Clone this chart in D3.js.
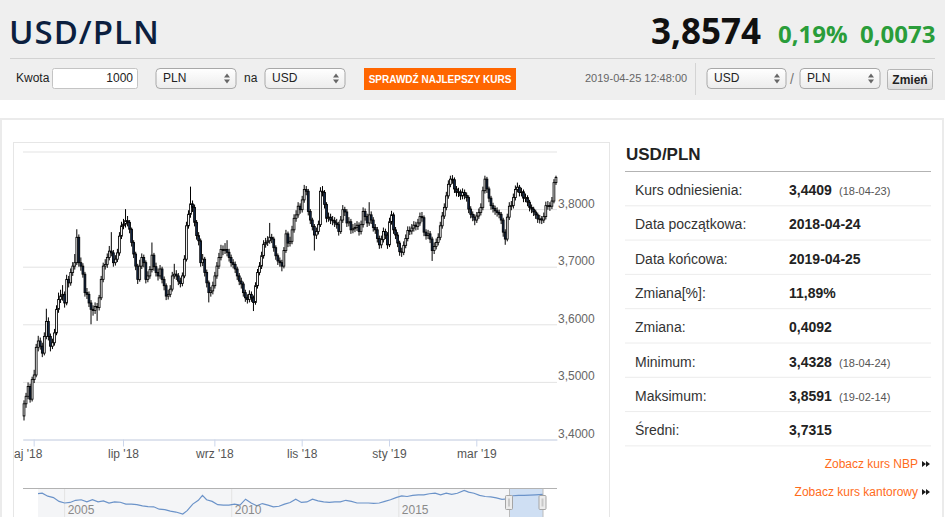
<!DOCTYPE html>
<html lang="pl">
<head>
<meta charset="utf-8">
<title>USD/PLN</title>
<script src="https://cdn.jsdelivr.net/npm/d3@7"></script>
<style>
  body { margin: 0; width: 945px; height: 517px; overflow: hidden; background: #fff; }
  svg { display: block; font-family: Arial, "Liberation Sans", sans-serif; }
</style>
</head>
<body>
<script>
// ---- data ----
const refRate = 3.4409;            // Kurs odniesienia (18-04-23), open of the first candle
const startDay = '2018-04-24';
const endDay = '2019-04-25';

// daily closes, one per weekday from startDay to endDay (open = previous close)
const closes = [
  3.462,3.475,3.492,3.470,3.504,3.512,3.560,3.571,3.562,3.550,
  3.579,3.605,3.579,3.562,3.568,3.585,3.626,3.643,3.649,3.652,
  3.637,3.678,3.672,3.690,3.701,3.707,3.751,3.707,3.701,3.687,
  3.655,3.652,3.637,3.626,3.624,3.631,3.629,3.646,3.678,3.701,
  3.704,3.716,3.727,3.724,3.707,3.713,3.724,3.753,3.771,3.774,
  3.780,3.777,3.765,3.742,3.722,3.701,3.678,3.701,3.716,3.707,
  3.678,3.684,3.695,3.720,3.700,3.690,3.684,3.696,3.678,3.667,
  3.649,3.652,3.661,3.684,3.687,3.684,3.675,3.671,3.684,3.713,
  3.771,3.791,3.809,3.803,3.777,3.754,3.745,3.707,3.713,3.690,
  3.672,3.655,3.658,3.667,3.684,3.701,3.716,3.730,3.728,3.730,
  3.725,3.716,3.707,3.704,3.696,3.684,3.675,3.670,3.655,3.646,
  3.643,3.652,3.646,3.638,3.667,3.690,3.701,3.719,3.739,3.742,
  3.745,3.751,3.748,3.733,3.719,3.710,3.707,3.701,3.728,3.757,
  3.741,3.744,3.764,3.784,3.790,3.805,3.799,3.816,3.834,3.831,
  3.796,3.781,3.770,3.755,3.761,3.773,3.831,3.829,3.808,3.784,
  3.786,3.781,3.780,3.776,3.773,3.761,3.781,3.799,3.795,3.776,
  3.778,3.764,3.766,3.768,3.772,3.761,3.773,3.796,3.787,3.776,
  3.790,3.781,3.768,3.764,3.749,3.738,3.747,3.761,3.755,3.738,
  3.778,3.790,3.764,3.755,3.741,3.726,3.725,3.737,3.749,3.763,
  3.762,3.767,3.772,3.770,3.776,3.787,3.785,3.760,3.754,3.757,
  3.748,3.728,3.735,3.742,3.751,3.771,3.788,3.803,3.823,3.843,
  3.852,3.851,3.835,3.829,3.830,3.823,3.829,3.824,3.820,3.800,
  3.791,3.786,3.781,3.788,3.794,3.803,3.832,3.852,3.835,3.819,
  3.806,3.801,3.797,3.794,3.791,3.781,3.760,3.748,3.786,3.805,
  3.806,3.820,3.834,3.838,3.829,3.830,3.819,3.820,3.812,3.803,
  3.800,3.795,3.790,3.783,3.783,3.781,3.787,3.806,3.806,3.805,
  3.814,3.846,3.855
];
const highs = [
  3.468,3.481,3.499,3.497,3.509,3.521,3.566,3.580,3.577,3.568,
  3.586,3.627,3.612,3.584,3.575,3.592,3.633,3.655,3.660,3.668,
  3.657,3.686,3.684,3.697,3.708,3.722,3.765,3.756,3.716,3.706,
  3.691,3.663,3.657,3.642,3.633,3.638,3.637,3.651,3.684,3.707,
  3.713,3.723,3.736,3.760,3.729,3.720,3.731,3.760,3.778,3.783,
  3.800,3.788,3.781,3.768,3.746,3.726,3.705,3.712,3.723,3.721,
  3.711,3.692,3.701,3.742,3.724,3.707,3.697,3.703,3.700,3.683,
  3.671,3.660,3.668,3.691,3.705,3.694,3.689,3.681,3.690,3.720,
  3.778,3.798,3.839,3.815,3.808,3.781,3.760,3.749,3.722,3.717,
  3.695,3.676,3.665,3.674,3.691,3.708,3.724,3.738,3.737,3.741,
  3.746,3.731,3.721,3.713,3.709,3.700,3.689,3.681,3.674,3.660,
  3.652,3.659,3.657,3.650,3.673,3.696,3.708,3.726,3.746,3.750,
  3.753,3.776,3.757,3.752,3.737,3.723,3.716,3.712,3.734,3.764,
  3.761,3.752,3.771,3.791,3.798,3.812,3.810,3.823,3.842,3.840,
  3.835,3.800,3.785,3.774,3.768,3.780,3.838,3.840,3.833,3.812,
  3.794,3.792,3.788,3.786,3.783,3.778,3.788,3.807,3.804,3.800,
  3.786,3.783,3.774,3.776,3.779,3.777,3.780,3.803,3.801,3.792,
  3.812,3.796,3.786,3.774,3.769,3.754,3.754,3.768,3.766,3.760,
  3.785,3.797,3.794,3.769,3.760,3.745,3.733,3.744,3.756,3.770,
  3.770,3.774,3.779,3.778,3.783,3.794,3.795,3.789,3.765,3.764,
  3.762,3.752,3.742,3.749,3.758,3.778,3.795,3.810,3.830,3.850,
  3.858,3.859,3.855,3.840,3.837,3.834,3.836,3.834,3.829,3.824,
  3.805,3.796,3.791,3.795,3.801,3.810,3.839,3.858,3.856,3.839,
  3.823,3.811,3.806,3.803,3.799,3.795,3.785,3.765,3.792,3.812,
  3.814,3.827,3.841,3.846,3.842,3.837,3.834,3.827,3.824,3.816,
  3.808,3.804,3.799,3.794,3.790,3.788,3.794,3.813,3.814,3.812,
  3.821,3.852,3.858
];
const lows = [
  3.433,3.455,3.470,3.464,3.466,3.498,3.508,3.553,3.556,3.543,
  3.546,3.574,3.572,3.553,3.557,3.563,3.581,3.620,3.637,3.641,
  3.629,3.633,3.664,3.667,3.684,3.695,3.703,3.700,3.693,3.681,
  3.648,3.644,3.630,3.600,3.615,3.618,3.606,3.624,3.642,3.673,
  3.695,3.698,3.711,3.718,3.700,3.702,3.708,3.719,3.748,3.765,
  3.768,3.770,3.758,3.735,3.715,3.694,3.670,3.674,3.696,3.699,
  3.671,3.673,3.679,3.690,3.693,3.683,3.676,3.679,3.671,3.659,
  3.642,3.643,3.647,3.657,3.679,3.677,3.668,3.664,3.666,3.680,
  3.709,3.766,3.785,3.795,3.770,3.747,3.737,3.700,3.701,3.683,
  3.664,3.638,3.648,3.652,3.662,3.679,3.696,3.711,3.720,3.722,
  3.718,3.709,3.700,3.697,3.689,3.677,3.668,3.662,3.648,3.639,
  3.636,3.638,3.639,3.623,3.634,3.662,3.685,3.696,3.714,3.733,
  3.736,3.740,3.741,3.726,3.712,3.703,3.700,3.692,3.697,3.724,
  3.734,3.735,3.739,3.759,3.778,3.785,3.792,3.794,3.811,3.824,
  3.789,3.774,3.763,3.728,3.748,3.756,3.769,3.822,3.801,3.777,
  3.778,3.774,3.772,3.769,3.766,3.754,3.757,3.776,3.788,3.769,
  3.770,3.757,3.758,3.760,3.762,3.754,3.756,3.768,3.780,3.769,
  3.771,3.774,3.761,3.757,3.742,3.731,3.732,3.742,3.748,3.731,
  3.734,3.773,3.757,3.748,3.734,3.719,3.717,3.720,3.732,3.744,
  3.755,3.756,3.761,3.763,3.764,3.771,3.778,3.753,3.747,3.748,
  3.741,3.710,3.722,3.730,3.737,3.746,3.766,3.783,3.798,3.818,
  3.838,3.844,3.828,3.822,3.821,3.816,3.817,3.817,3.813,3.793,
  3.784,3.779,3.772,3.776,3.783,3.789,3.798,3.827,3.828,3.812,
  3.799,3.794,3.790,3.787,3.784,3.774,3.752,3.738,3.744,3.781,
  3.798,3.801,3.815,3.829,3.822,3.822,3.812,3.812,3.805,3.796,
  3.793,3.788,3.783,3.776,3.775,3.774,3.776,3.782,3.799,3.797,
  3.800,3.810,3.842
];

const gridTicks = [3.4, 3.5, 3.6, 3.7, 3.8, 3.9];
const yLabelTicks = [3.4, 3.5, 3.6, 3.7, 3.8];
const monthStarts = ['2018-05-01', '2018-07-01', '2018-09-01', '2018-11-01', '2019-01-01', '2019-03-01'];
const monthLabels = ["maj '18", "lip '18", "wrz '18", "lis '18", "sty '19", "mar '19"];

// navigator: long history of USD/PLN
const navDates = [
  '2004-03-16','2004-05-01','2004-07-01','2004-09-01','2004-11-01','2005-01-01','2005-03-01','2005-05-01',
  '2005-07-01','2005-09-01','2005-11-01','2006-01-01','2006-03-01','2006-05-01','2006-07-01','2006-09-01',
  '2006-11-01','2007-01-01','2007-03-01','2007-05-01','2007-07-01','2007-09-01','2007-11-01','2008-01-01',
  '2008-03-01','2008-05-01','2008-07-15','2008-09-01','2008-11-01','2009-01-01','2009-02-15','2009-04-01',
  '2009-06-01','2009-08-01','2009-10-01','2009-12-01','2010-02-01','2010-04-01','2010-06-01','2010-08-01',
  '2010-10-01','2010-12-01','2011-02-01','2011-04-01','2011-06-01','2011-08-01','2011-10-01','2011-12-01',
  '2012-02-01','2012-04-01','2012-06-01','2012-08-01','2012-10-01','2012-12-01','2013-02-01','2013-04-01',
  '2013-06-01','2013-08-01','2013-10-01','2013-12-01','2014-02-01','2014-04-01','2014-06-01','2014-08-01',
  '2014-10-01','2014-12-01','2015-02-01','2015-04-01','2015-06-01','2015-08-01','2015-10-01','2015-12-01',
  '2016-02-01','2016-04-01','2016-06-01','2016-08-01','2016-10-01','2016-12-15','2017-02-01','2017-04-01',
  '2017-06-01','2017-08-01','2017-10-01','2017-12-01','2018-02-01','2018-04-01','2018-06-01','2018-08-01',
  '2018-10-01','2018-12-01','2019-02-01','2019-04-25'
];
const navRates = [
  3.92,3.95,3.68,3.55,3.20,3.05,3.10,3.30,
  3.35,3.15,3.35,3.15,3.25,3.05,3.15,3.12,
  2.95,2.95,2.90,2.78,2.72,2.70,2.48,2.44,
  2.30,2.22,2.04,2.35,2.95,3.30,3.75,3.35,
  3.20,2.90,2.85,2.85,2.95,2.85,3.40,3.05,
  2.80,3.00,2.85,2.70,2.75,2.95,3.10,3.40,
  3.10,3.15,3.40,3.25,3.15,3.10,3.15,3.15,
  3.30,3.20,3.05,3.05,3.05,3.02,3.05,3.20,
  3.35,3.55,3.70,3.65,3.75,3.80,3.80,3.90,
  3.95,3.80,3.95,3.85,3.95,4.20,4.05,3.95,
  3.75,3.65,3.62,3.52,3.38,3.43,3.72,3.75,
  3.75,3.77,3.80,3.84
];

const statLabels = ['Kurs odniesienia:', 'Data początkowa:', 'Data końcowa:', 'Zmiana[%]:', 'Zmiana:', 'Minimum:', 'Maksimum:', 'Średni:'];
const statValues = ['3,4409', '2018-04-24', '2019-04-25', '11,89%', '0,4092', '3,4328', '3,8591', '3,7315'];
const statDates = ['(18-04-23)', '', '', '', '', '(18-04-24)', '(19-02-14)', ''];

// ---- page ----
const svg = d3.select('body').append('svg').attr('width', 945).attr('height', 517);
const defs = svg.append('defs');

const addGradient = (id, from, to) => {
  const g = defs.append('linearGradient').attr('id', id).attr('x1', 0).attr('y1', 0).attr('x2', 0).attr('y2', 1);
  g.append('stop').attr('offset', '0%').attr('stop-color', from);
  g.append('stop').attr('offset', '100%').attr('stop-color', to);
};
addGradient('selGrad', '#ffffff', '#ececec');
addGradient('btnGrad', '#fbfbfb', '#dcdcdc');

defs.append('clipPath').attr('id', 'chartClip')
  .append('rect').attr('x', 14).attr('y', 143).attr('width', 596).attr('height', 374);

// Header
svg.append('rect').attr('width', 945).attr('height', 100).attr('fill', '#efefef');
svg.append('text').attr('x', 9).attr('y', 43.5).text('USD/PLN')
  .attr('font-family', '"Open Sans", sans-serif').attr('font-weight', 600).attr('font-size', 33)
  .attr('letter-spacing', 1).attr('fill', '#0c1f3f');
svg.append('text').attr('x', 651).attr('y', 44).text('3,8574')
  .attr('font-family', '"Open Sans", sans-serif').attr('font-weight', 700).attr('font-size', 35).attr('fill', '#111');
svg.append('text').attr('x', 778).attr('y', 43).text('0,19%')
  .attr('font-family', '"Open Sans", sans-serif').attr('font-weight', 700).attr('font-size', 24).attr('fill', '#2a9d3a');
svg.append('text').attr('x', 860).attr('y', 43).text('0,0073')
  .attr('font-family', '"Open Sans", sans-serif').attr('font-weight', 700).attr('font-size', 24).attr('fill', '#2a9d3a');
svg.append('line').attr('x1', 10).attr('x2', 935).attr('y1', 58.5).attr('y2', 58.5).attr('stroke', '#d2d2d2');

// Form row
const form = svg.append('g').attr('font-size', 12).attr('fill', '#222');
form.append('text').attr('x', 16).attr('y', 82).text('Kwota');
form.append('rect').attr('x', 52.5).attr('y', 68.5).attr('width', 85).attr('height', 20).attr('rx', 2)
  .attr('fill', '#fff').attr('stroke', '#c4c4c4');
form.append('text').attr('x', 133).attr('y', 82).attr('text-anchor', 'end').text('1000');

const drawSelect = (x, w, label) => {
  const g = form.append('g').attr('transform', `translate(${x},68.5)`);
  g.append('rect').attr('width', w).attr('height', 20).attr('rx', 4)
    .attr('fill', 'url(#selGrad)').attr('stroke', '#a8a8a8');
  g.append('text').attr('x', 7).attr('y', 13.5).text(label);
  g.append('path').attr('d', `M${w - 12},9 l3,-4 l3,4 z M${w - 12},11 l3,4 l3,-4 z`).attr('fill', '#666');
};
drawSelect(156, 80, 'PLN');
form.append('text').attr('x', 244).attr('y', 82).text('na');
drawSelect(265, 80, 'USD');

svg.append('rect').attr('x', 364).attr('y', 68).attr('width', 152).attr('height', 22).attr('fill', '#ff6600');
svg.append('text').attr('x', 440).attr('y', 82.5).attr('text-anchor', 'middle').text('SPRAWDŹ NAJLEPSZY KURS')
  .attr('font-size', 10).attr('font-weight', 700).attr('fill', '#fff');

form.append('text').attr('x', 585).attr('y', 82).attr('font-size', 11).attr('fill', '#666').text('2019-04-25 12:48:00');
svg.append('line').attr('x1', 695.5).attr('x2', 695.5).attr('y1', 63).attr('y2', 95).attr('stroke', '#d4d4d4');
drawSelect(707, 79, 'USD');
form.append('text').attr('x', 790).attr('y', 84).attr('font-size', 14).attr('fill', '#777').text('/');
drawSelect(800, 80, 'PLN');
svg.append('rect').attr('x', 887.5).attr('y', 69.5).attr('width', 45).attr('height', 20).attr('rx', 2)
  .attr('fill', 'url(#btnGrad)').attr('stroke', '#b5b5b5');
svg.append('text').attr('x', 910).attr('y', 84).attr('text-anchor', 'middle').text('Zmień')
  .attr('font-size', 12).attr('font-weight', 700).attr('fill', '#222');

// Cards
svg.append('rect').attr('x', 1).attr('y', 119).attr('width', 942).attr('height', 420)
  .attr('fill', 'none').attr('stroke', '#ebebeb').attr('stroke-width', 2);
svg.append('rect').attr('x', 13.5).attr('y', 142.5).attr('width', 596).attr('height', 400)
  .attr('fill', 'none').attr('stroke', '#e6e6e6');

// Stats panel
svg.append('text').attr('x', 626).attr('y', 160).text('USD/PLN')
  .attr('font-size', 17).attr('font-weight', 700).attr('fill', '#222');
svg.append('line').attr('x1', 625).attr('x2', 931).attr('y1', 171.5).attr('y2', 171.5).attr('stroke', '#b3b3b3');

const rowH = 34.3;
const rows = svg.append('g').selectAll('g').data(statLabels).join('g')
  .attr('transform', (d, i) => `translate(0,${172 + i * rowH})`);
rows.append('text').attr('x', 635).attr('y', 23).attr('font-size', 14).attr('fill', '#333').text(d => d);
rows.append('text').attr('x', 789).attr('y', 23).attr('font-size', 14).attr('font-weight', 700).attr('fill', '#222')
  .text((d, i) => statValues[i]);
rows.append('text').attr('x', 839).attr('y', 23).attr('font-size', 11).attr('fill', '#555')
  .text((d, i) => statDates[i]);
rows.append('line').attr('x1', 625).attr('x2', 931).attr('y1', rowH - 0.5).attr('y2', rowH - 0.5).attr('stroke', '#ececec');

const links = ['Zobacz kurs NBP', 'Zobacz kurs kantorowy'];
links.forEach((t, i) => {
  const y = 468 + i * 28;
  svg.append('text').attr('x', 918).attr('y', y).attr('text-anchor', 'end').text(t)
    .attr('font-size', 12).attr('fill', '#ff6b1a');
  svg.append('path').attr('d', `M922,${y - 7} l4,3 l-4,3 z M926,${y - 7} l4,3 l-4,3 z`).attr('fill', '#1a1a1a');
});

// ---- candlestick chart ----
const parseDay = d3.utcParse('%Y-%m-%d');
const days = d3.utcDays(parseDay(startDay), d3.utcDay.offset(parseDay(endDay), 1))
  .filter(d => d.getUTCDay() !== 0 && d.getUTCDay() !== 6);

const candles = closes.map((c, i) => ({
  date: days[i],
  o: i === 0 ? refRate : closes[i - 1],
  h: highs[i],
  l: lows[i],
  c: c
}));

const plot = { left: 23, right: 557, top: 151.5, bottom: 439.5 };
const x = d3.scaleBand().domain(d3.range(candles.length)).range([plot.left, plot.right]);
const cx = i => x(i) + x.bandwidth() / 2;
const y = d3.scaleLinear().domain([3.4, 3.9]).range([plot.bottom, plot.top]);

const chart = svg.append('g').attr('clip-path', 'url(#chartClip)');

// gridlines
chart.append('g').attr('transform', `translate(${plot.left},0)`)
  .call(d3.axisRight(y).tickValues(gridTicks).tickSize(plot.right - plot.left).tickFormat(''))
  .call(g => g.select('.domain').remove())
  .call(g => g.selectAll('line').attr('stroke', '#e3e3e3'));

// y labels (right side, sitting just above the gridline)
chart.append('g').attr('transform', 'translate(558,0)')
  .call(d3.axisRight(y).tickValues(yLabelTicks).tickSize(0).tickPadding(0)
    .tickFormat(d => d.toFixed(4).replace('.', ',')))
  .call(g => g.select('.domain').remove())
  .call(g => g.selectAll('text').attr('dy', -2).attr('font-size', 12).attr('fill', '#666')
    .attr('font-family', 'Arial, "Liberation Sans", sans-serif'));

// x axis
const bisectDay = d3.bisector(d => d).left;
const monthIdx = monthStarts.map(s => bisectDay(days, parseDay(s)));
chart.append('g').attr('transform', `translate(0,${plot.bottom})`)
  .call(d3.axisBottom(x).tickValues(monthIdx).tickSize(7).tickSizeOuter(0).tickPadding(3)
    .tickFormat((d, i) => monthLabels[i]))
  .call(g => g.select('.domain').attr('stroke', '#ccd6eb'))
  .call(g => g.selectAll('line').attr('stroke', '#ccd6eb'))
  .call(g => g.selectAll('text').attr('font-size', 12).attr('fill', '#555')
    .attr('font-family', 'Arial, "Liberation Sans", sans-serif'))
  .call(g => g.selectAll('.tick').filter((d, i) => i === 0).select('text').attr('dx', -11));

// candles
const candleG = chart.append('g');
candleG.selectAll('line').data(candles).join('line')
  .attr('x1', (d, i) => cx(i)).attr('x2', (d, i) => cx(i))
  .attr('y1', d => y(d.h)).attr('y2', d => y(d.l))
  .attr('stroke', '#000').attr('stroke-width', 1);
candleG.selectAll('rect').data(candles).join('rect')
  .attr('x', (d, i) => cx(i) - 0.9).attr('width', 1.8)
  .attr('y', d => y(Math.max(d.o, d.c)))
  .attr('height', d => Math.max(0.8, Math.abs(y(d.o) - y(d.c))))
  .attr('fill', d => d.c >= d.o ? '#ffffff' : '#13294b')
  .attr('stroke', '#000').attr('stroke-width', 0.85);

// ---- navigator ----
const navPoints = navDates.map((d, i) => ({ date: parseDay(d), v: navRates[i] }));
const navTop = 488.5;
const navX = d3.scaleUtc().domain(d3.extent(navPoints, d => d.date)).range([38, 543]);
const navY = d3.scaleLinear().domain(d3.extent(navRates)).range([514, 490.5]);
const selX0 = navX(days[0]);
const selX1 = navX(days[days.length - 1]);

const nav = svg.append('g').attr('clip-path', 'url(#chartClip)');
nav.append('rect').attr('x', 38).attr('y', navTop).attr('width', selX0 - 38).attr('height', 40).attr('fill', '#f4f5f7');
nav.selectAll('.yr').data(navX.ticks(d3.utcYear.every(5))).join('line')
  .attr('x1', d => navX(d)).attr('x2', d => navX(d)).attr('y1', navTop).attr('y2', 530)
  .attr('stroke', '#e3e3e3');
nav.append('rect').attr('x', selX0).attr('y', navTop).attr('width', selX1 - selX0).attr('height', 40)
  .attr('fill', '#cfdff3');
nav.append('path').datum(navPoints)
  .attr('d', d3.line().x(d => navX(d.date)).y(d => navY(d.v)))
  .attr('fill', 'none').attr('stroke', '#6b93c9').attr('stroke-width', 1.2);
nav.selectAll('.yrl').data(navX.ticks(d3.utcYear.every(5))).join('text')
  .attr('x', d => navX(d) + 3).attr('y', 514).text(d3.utcFormat('%Y'))
  .attr('font-size', 12).attr('fill', '#8a8a8a');
nav.append('line').attr('x1', 23).attr('x2', 557).attr('y1', navTop).attr('y2', navTop).attr('stroke', '#b2b2b2');
[selX0, selX1].forEach(hx => {
  nav.append('line').attr('x1', hx).attr('x2', hx).attr('y1', navTop).attr('y2', 530).attr('stroke', '#bbb');
  nav.append('rect').attr('x', hx - 4).attr('y', 495.5).attr('width', 7).attr('height', 14).attr('rx', 1)
    .attr('fill', '#ececec').attr('stroke', '#a5a5a5');
  nav.append('rect').attr('x', hx - 1.5).attr('y', 498.5).attr('width', 2).attr('height', 8).attr('fill', '#c8c8c8');
});
</script>
</body>
</html>
